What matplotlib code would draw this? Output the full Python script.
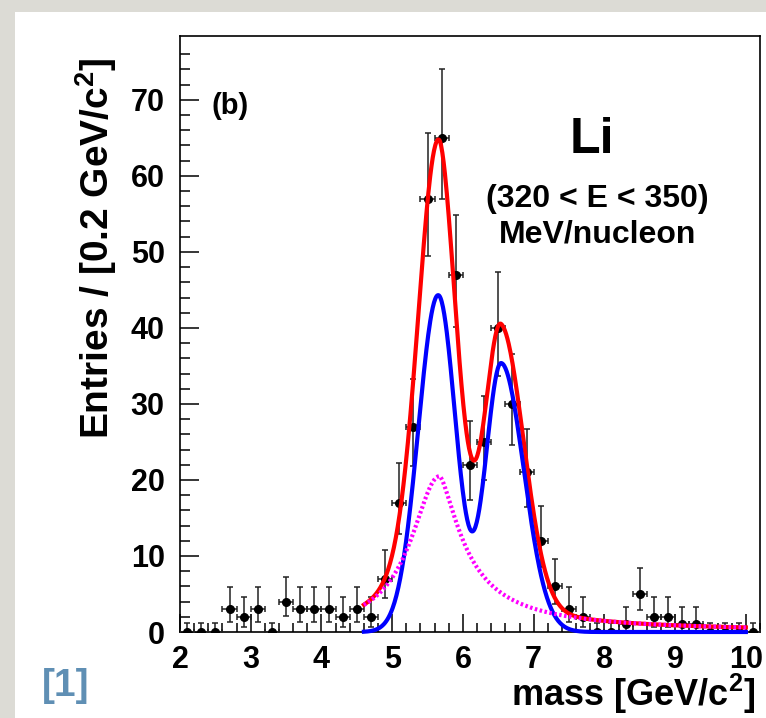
import numpy as np
import matplotlib.pyplot as plt
from matplotlib.patches import Rectangle

plt.rcParams['font.family'] = ['Liberation Sans', 'DejaVu Sans']
plt.rcParams['font.weight'] = 'bold'
plt.rcParams['mathtext.fontset'] = 'custom'
plt.rcParams['mathtext.bf'] = 'Liberation Sans:bold'

# ---------- data: 0.2 GeV bins from 2.0 to 10.2 ----------
bin_lo, bin_w = 2.0, 0.2
counts = [0, 0, 0, 3, 2, 3, 0, 4, 3, 3, 3, 2, 3, 2,
          7, 17, 27, 57, 65, 47, 22, 25, 40, 30, 21, 12, 6, 3,
          2, 0, 0, 1, 5, 2, 2, 1, 1, 0, 0, 0, 0]

# ---------- fit components ----------
# signal: two bifurcated gaussians (amplitude, mean, sigma left, sigma right)
sig_peaks = [(44.3, 5.65, 0.28, 0.25),
             (35.3, 6.54, 0.22, 0.32)]
# background: asymmetric peak with a long right tail
bkg_amp, bkg_mean = 20.5, 5.67
bkg_gamma_left, bkg_gamma_right, bkg_tail_power = 0.49, 0.42, 1.5
curve_range = (4.6, 10.0)

counts = np.array(counts, dtype=float)
centers = bin_lo + bin_w * (np.arange(len(counts)) + 0.5)

# poisson 68% intervals (Gehrels approximation, one sided for empty bins)
n = np.where(counts > 0, counts, 1.0)
err_up = np.where(counts > 0, np.sqrt(n + 0.75) + 1.0, 1.148)
lower = n * (1 - 1 / (9 * n) - 1 / (3 * np.sqrt(n))) ** 3
err_dn = np.where(counts > 0, counts - lower, 0.0)


def signal(x):
    y = np.zeros_like(x)
    for amp, mu, sl, sr in sig_peaks:
        s = np.where(x < mu, sl, sr)
        y += amp * np.exp(-0.5 * ((x - mu) / s) ** 2)
    return y


def background(x):
    d = x - bkg_mean
    left = bkg_amp / (1 + (d / bkg_gamma_left) ** 2)
    right = bkg_amp / (1 + np.abs(d / bkg_gamma_right) ** bkg_tail_power)
    return np.where(d < 0, left, right)


xs = np.linspace(curve_range[0], curve_range[1], 600)
sig = signal(xs)
bkg = background(xs)

# ---------- figure ----------
fig = plt.figure(figsize=(7.66, 7.18), dpi=100)
fig.patch.set_facecolor('#dcdbd5')
fig.patches.append(Rectangle((15 / 766, 0), 1, 1 - 12 / 718, transform=fig.transFigure,
                             facecolor='white', edgecolor='none', zorder=-5))

ax = fig.add_axes([180 / 766, 1 - 632 / 718, 580 / 766, 596 / 718])
ax.set_facecolor('white')
ax.set_xlim(2.0, 10.2)
ax.set_ylim(0, 78.4)

ax.errorbar(centers, counts, xerr=bin_w / 2, yerr=[err_dn, err_up], fmt='o', color='black',
            ecolor='#222222', elinewidth=1.1, capsize=2.5, capthick=1.1, markersize=5.5, zorder=3)

ax.plot(xs, sig + bkg, color='#ff0000', lw=3.0, zorder=4)
ax.plot(xs, sig, color='#0000ff', lw=3.0, zorder=5, clip_on=False)
ax.plot(xs, bkg, color='#ff00ff', lw=3.0, ls=(0, (0.6, 0.6)), zorder=6)

# ---------- axes styling ----------
for sp in ax.spines.values():
    sp.set_linewidth(1.2)
ax.set_xticks(np.arange(2, 11, 1))
ax.set_xticks(np.arange(2, 10.21, 0.2), minor=True)
ax.set_yticks(np.arange(0, 71, 10))
ax.set_yticks(np.arange(0, 78, 2), minor=True)
ax.tick_params(which='both', direction='in', top=False, right=False, width=1.1)
ax.tick_params(axis='y', which='major', length=14, pad=11, labelsize=22)
ax.tick_params(axis='y', which='minor', length=7)
ax.tick_params(axis='x', which='major', length=13, pad=9, labelsize=22)
ax.tick_params(axis='x', which='minor', length=6.5)
for lab in ax.get_xticklabels() + ax.get_yticklabels():
    lab.set_fontweight('bold')

fig.text(96 / 766, 1 - 58 / 718, 'Entries / [0.2 GeV/c$^{\\mathbf{2}}$]', rotation=90,
         ha='center', va='top', fontsize=28, fontweight='bold')
fig.text(755 / 766, 1 - 694 / 718, 'mass [GeV/c$^{\\mathbf{2}}$]', ha='right', va='center',
         fontsize=26, fontweight='bold')

ax.text(0.055, 0.883, '(b)', transform=ax.transAxes, ha='left', va='center', fontsize=21,
        fontweight='bold')
ax.text(7.83, 64.7, 'Li', ha='center', va='center', fontsize=36, fontweight='bold')
ax.text(7.9, 56.9, '(320 < E < 350)', ha='center', va='center', fontsize=23, fontweight='bold')
ax.text(7.9, 52.3, 'MeV/nucleon', ha='center', va='center', fontsize=23, fontweight='bold')

fig.text(66 / 766, 1 - 686 / 718, '[1]', ha='center', va='center', fontsize=28,
         fontweight='bold', color='#5f8fb4')

fig.savefig('out.png', dpi=100, facecolor=fig.get_facecolor())
